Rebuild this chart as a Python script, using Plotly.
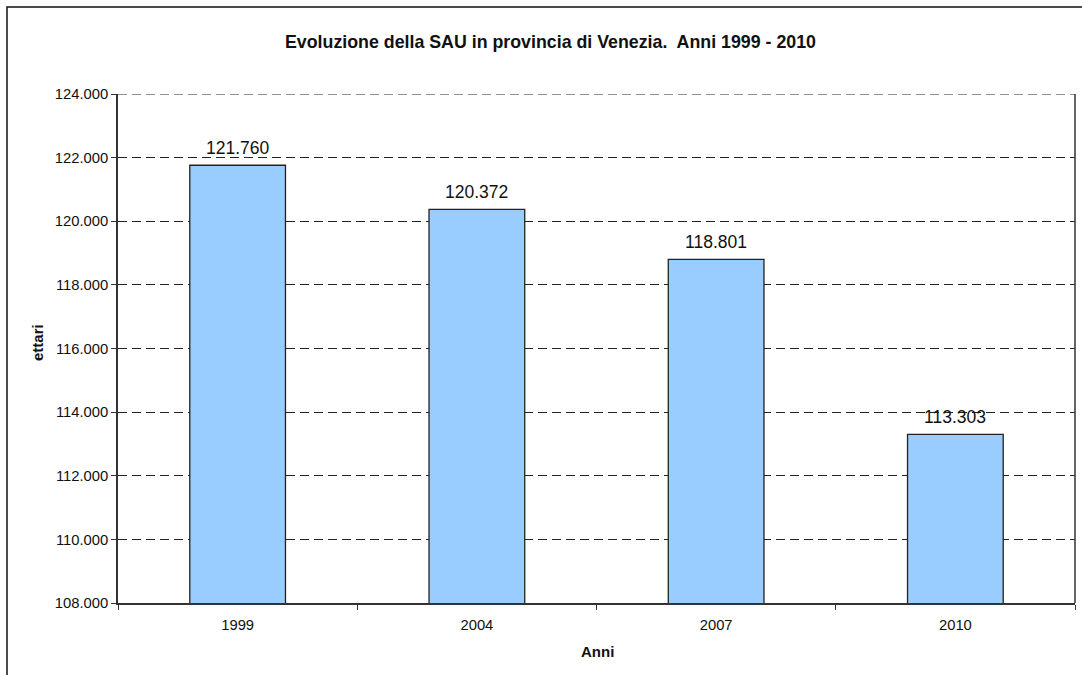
import plotly.graph_objects as go

anni = ["1999", "2004", "2007", "2010"]
ettari = [121760, 120372, 118801, 113303]
y_ticks = [108000, 110000, 112000, 114000, 116000, 118000, 120000, 122000, 124000]

FONT = "Arial, 'Liberation Sans', Helvetica, sans-serif"

W, H = 1082, 675
L, R, T, B = 118, 7, 94, 72
pw = W - L - R
ph = H - T - B
GRID_DASH = "9px,5px"

fig = go.Figure()
fig.add_trace(go.Bar(
    x=anni, y=ettari,
    marker=dict(color="#99CCFF", line=dict(color="#222222", width=1.3)),
    width=0.4,
    hoverinfo="x+y",
))

# value labels: category index positions on the category axis
annotations = [
    dict(x=i, y=v, xref="x", yref="y", text=f"{v:,}".replace(",", "."),
         showarrow=False, yshift=17, yanchor="middle", xanchor="center",
         font=dict(size=17.5, family=FONT, color="#111111"))
    for i, v in enumerate(ettari)
]
annotations += [
    dict(text="<b>Evoluzione della SAU in provincia di Venezia.\u00a0 Anni 1999 - 2010</b>",
         xref="paper", yref="paper",
         x=(550 - L) / pw, y=1 + (T - 42) / ph,
         xanchor="center", yanchor="middle", showarrow=False,
         font=dict(size=17.8, family=FONT, color="#111111")),
    dict(text="<b>ettari</b>", textangle=-90,
         xref="paper", yref="paper",
         x=(37 - L) / pw, y=1 - (343 - T) / ph,
         xanchor="center", yanchor="middle", showarrow=False,
         font=dict(size=15, family=FONT, color="#111111")),
    dict(text="<b>Anni</b>",
         xref="paper", yref="paper",
         x=(597 - L) / pw, y=-(651 - (T + ph)) / ph,
         xanchor="center", yanchor="middle", showarrow=False,
         font=dict(size=15, family=FONT, color="#111111")),
]

fig.update_layout(
    width=W, height=H,
    margin=dict(l=L, r=R, t=T, b=B),
    paper_bgcolor="white", plot_bgcolor="white",
    separators=",.",
    showlegend=False,
    font=dict(family=FONT, color="#111111"),
    xaxis=dict(
        type="category", categoryorder="array", categoryarray=anni,
        range=[-0.5, len(anni) - 0.5],
        showline=True, linecolor="#333333", linewidth=1.5,
        ticks="outside", tickson="boundaries", ticklen=5, tickcolor="#333333",
        ticklabelstandoff=7,
        tickfont=dict(size=14.8, family=FONT), showgrid=False,
    ),
    yaxis=dict(
        range=[y_ticks[0], y_ticks[-1]], tickvals=y_ticks, tickformat=",d",
        showline=True, linecolor="#333333", linewidth=1.5, mirror=False,
        ticks="outside", ticklen=5, tickcolor="#333333",
        tickfont=dict(size=14.8, family=FONT),
        showgrid=True, gridcolor="#222222", gridwidth=1, griddash=GRID_DASH,
        zeroline=False,
    ),
    annotations=annotations,
    shapes=[
        # top gridline (dashed) at the range top
        dict(type="line", xref="paper", yref="y", x0=0, x1=1,
             y0=y_ticks[-1], y1=y_ticks[-1],
             line=dict(color="#222222", width=1, dash=GRID_DASH)),
        # right border of plot area
        dict(type="line", xref="paper", yref="paper", x0=1, x1=1, y0=0, y1=1,
             line=dict(color="#333333", width=1.5)),
        # outer chart frame
        dict(type="rect", xref="paper", yref="paper",
             x0=(7 - L) / pw, x1=(W + 10 - L) / pw,
             y0=-(H + 10 - T - ph) / ph, y1=1 + (T - 7) / ph,
             line=dict(color="#111111", width=1.5), fillcolor="rgba(0,0,0,0)",
             layer="below"),
    ],
)

fig.write_html(
    "out.html",
    config={"displayModeBar": False},
    post_script="document.body.style.margin='0';document.body.style.overflow='hidden';",
)
